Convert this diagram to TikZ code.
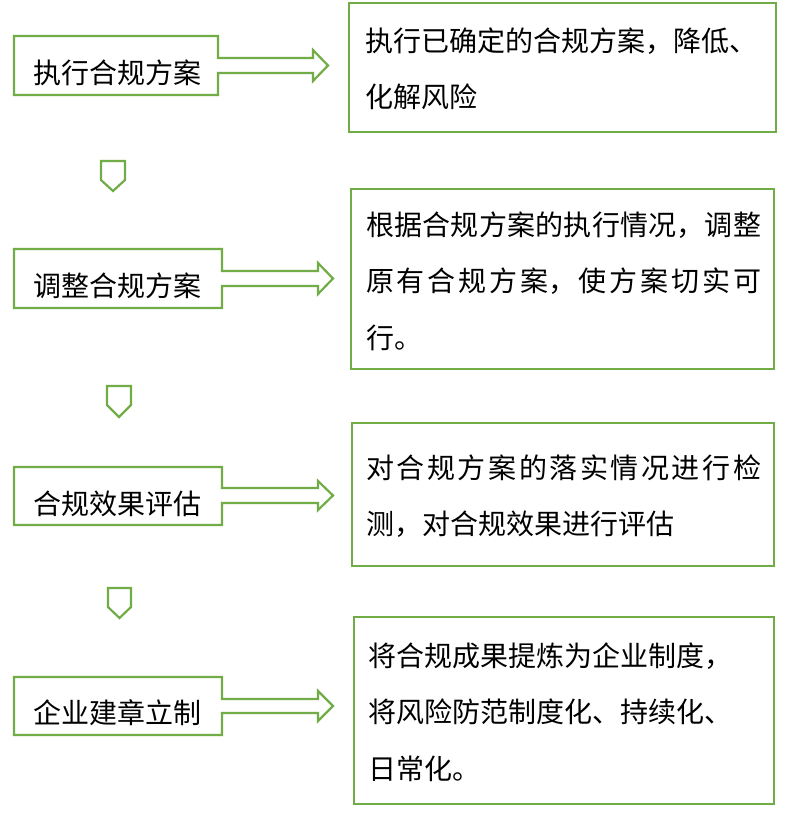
\documentclass[tikz,border=0pt]{standalone}
\usepackage{fontspec}
\setmainfont{Noto Sans CJK SC}
\XeTeXlinebreaklocale "zh"
\XeTeXlinebreakskip=0pt plus 3pt
\definecolor{boxgreen}{HTML}{70AD47}
\begin{document}
\begin{tikzpicture}[x=1pt,y=-1pt,line width=2.2pt,
  outline/.style={draw=boxgreen,line join=miter},
  lbl/.style={anchor=base west,inner sep=0pt,font=\fontsize{28}{34}\selectfont},
  desc/.style={anchor=base west,inner sep=0pt,font=\fontsize{28}{56.5}\selectfont}]
\useasboundingbox (0,0) rectangle (793,828);
\fill[white] (0,0) rectangle (793,828);

% left callouts
\draw[outline] (14,36) -- (218,36) -- (218,58) -- (313,58) -- (313,50) -- (328,65.5) -- (313,81) -- (313,73) -- (218,73) -- (218,95) -- (14,95) -- cycle;
\draw[outline] (14,249) -- (222,249) -- (222,271) -- (318,271) -- (318,263) -- (333,278.5) -- (318,294) -- (318,286) -- (222,286) -- (222,308) -- (14,308) -- cycle;
\draw[outline] (14,467) -- (222,467) -- (222,488) -- (318,488) -- (318,481) -- (333,495.5) -- (318,510) -- (318,503) -- (222,503) -- (222,525) -- (14,525) -- cycle;
\draw[outline] (14,677) -- (222,677) -- (222,699) -- (318,699) -- (318,691) -- (333,706) -- (318,721) -- (318,713) -- (222,713) -- (222,735) -- (14,735) -- cycle;

\node[lbl] (l1) at (32,83) {执行合规方案};
\node[lbl] (l2) at (32,296) {调整合规方案};
\node[lbl] (l3) at (32,514) {合规效果评估};
\node[lbl] (l4) at (32,723) {企业建章立制};

% down arrows
\draw[outline] (101,161) -- (125,161) -- (125,180) -- (113,191) -- (101,180) -- cycle;
\draw[outline] (107,386) -- (131,386) -- (131,405) -- (119,417) -- (107,405) -- cycle;
\draw[outline] (108,588) -- (131,588) -- (131,607) -- (119.5,618) -- (108,607) -- cycle;

% right boxes
\draw[outline] (349,3) rectangle (776,132);
\draw[outline] (351,189) rectangle (774,369);
\draw[outline] (352,423) rectangle (774,566);
\draw[outline] (354,617) rectangle (774,804);

\node[desc,text width=395pt,align=left] (d1) at (364,51) {执行已确定的合规方案，降低、\\化解风险};
\node[desc,text width=395pt,align=justify] (d2) at (365,235) {根据合规方案的执行情况，调整\linebreak 原有合规方案，使方案切实可\linebreak 行。};
\node[desc,text width=395pt,align=justify] (d3) at (365,478) {对合规方案的落实情况进行检\linebreak 测，对合规效果进行评估};
\node[desc,text width=395pt,align=left] (d4) at (367,666) {将合规成果提炼为企业制度，\\将风险防范制度化、持续化、\\日常化。};
\end{tikzpicture}
\end{document}
